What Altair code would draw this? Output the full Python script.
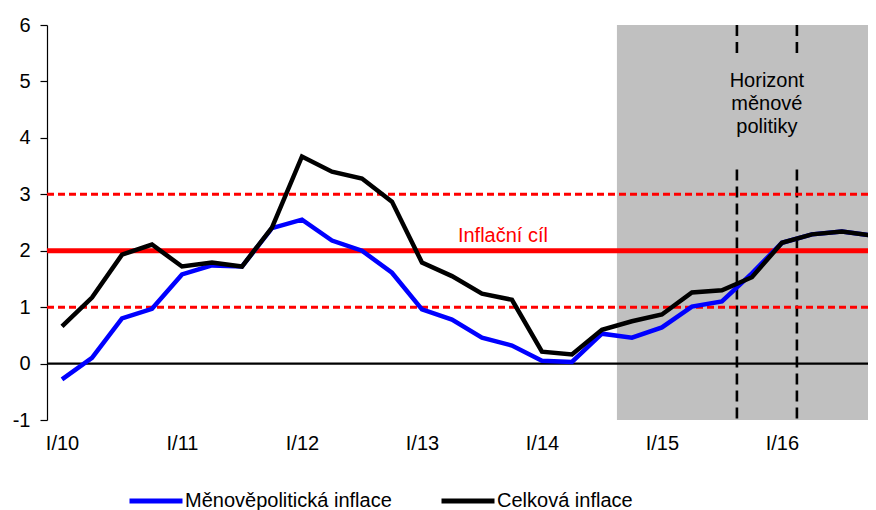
import json
import altair as alt
import pandas as pd

FONT = "Liberation Sans"

# ---------------- data ----------------
tick_labels = ["I/10", "I/11", "I/12", "I/13", "I/14", "I/15", "I/16"]
quarter_idx = list(range(28))
celkova = [0.66, 1.17, 1.93, 2.11, 1.72, 1.79, 1.72, 2.41,
           3.67, 3.40, 3.28, 2.87, 1.79, 1.55, 1.24, 1.13,
           0.21, 0.16, 0.60, 0.75, 0.87, 1.26, 1.30, 1.53,
           2.14, 2.29, 2.34, 2.27]
menove = [-0.28, 0.10, 0.80, 0.97, 1.58, 1.74, 1.72, 2.40,
          2.55, 2.18, 2.00, 1.61, 0.96, 0.78, 0.46, 0.32,
          0.05, 0.03, 0.53, 0.46, 0.64, 1.01, 1.10, 1.60,
          2.14, 2.29, 2.34, 2.27]
series_names = ["Měnověpolitická inflace", "Celková inflace"]
series_colors = ["#0000ff", "#000000"]

target = [2]
band_limits = [1, 3]
zero = [0]
forecast_band = [18.5, 27.5]
horizon_x = [22.5, 24.5]
horizon_gap = [5.48, 3.44]
target_label = "Inflační cíl"
target_label_pos = (14.7, 2.16)
horizon_label = "Horizont\nměnové\npolitiky"
horizon_label_pos = (23.5, 4.91)

# ---------------- frames ----------------
df_m = pd.DataFrame({"q": quarter_idx, "v": menove, "s": series_names[0]})
df_c = pd.DataFrame({"q": quarter_idx, "v": celkova, "s": series_names[1]})

xscale = alt.Scale(domain=[-0.5, 26.87], nice=False, zero=False)
yscale = alt.Scale(domain=[-1, 6], nice=False, zero=False)
cscale = alt.Scale(domain=series_names, range=series_colors)

label_expr = json.dumps(tick_labels) + "[round(datum.value / 4)]"

x_axis = alt.Axis(values=[0, 4, 8, 12, 16, 20, 24], labelExpr=label_expr,
                  ticks=False, domain=False, grid=False, title=None,
                  labelFont=FONT, labelFontSize=20, labelColor="#000000",
                  labelPadding=13, labelFlush=False, labelOverlap=False)
y_axis = alt.Axis(values=[-1, 0, 1, 2, 3, 4, 5, 6], grid=False, title=None,
                  labelExpr="datum.value < 0 ? '-' + abs(datum.value) : '' + datum.value",
                  labelFont=FONT, labelFontSize=20, labelColor="#000000",
                  tickColor="#000000", tickSize=7, tickWidth=1.2,
                  domainColor="#000000", domainWidth=1.2, labelPadding=10)


def X(field):
    return alt.X(field, scale=xscale, axis=x_axis, title=None)


def Y(field):
    return alt.Y(field, scale=yscale, axis=y_axis, title=None)


band = alt.Chart(pd.DataFrame({"x": [forecast_band[0]], "x2": [forecast_band[1]],
                               "y": [6], "y2": [-1]})).mark_rect(
    color="#c0c0c0", clip=True).encode(
    x=X("x:Q"), x2="x2:Q", y=Y("y:Q"), y2="y2:Q")

vdf = pd.DataFrame({
    "x": [horizon_x[0], horizon_x[0], horizon_x[1], horizon_x[1]],
    "y": [6, horizon_gap[1], 6, horizon_gap[1]],
    "y2": [horizon_gap[0], -1, horizon_gap[0], -1]})
vlines = alt.Chart(vdf).mark_rule(color="#000000", strokeWidth=2.6,
                                  strokeDash=[11, 6]).encode(
    x=X("x:Q"), y=Y("y:Q"), y2="y2:Q")

zero_rule = alt.Chart(pd.DataFrame({"y": zero})).mark_rule(
    color="#000000", strokeWidth=2.2).encode(y=Y("y:Q"))

dashed = alt.Chart(pd.DataFrame({"y": band_limits})).mark_rule(
    color="#ff0000", strokeWidth=3, strokeDash=[7, 4]).encode(y=Y("y:Q"))

target_rule = alt.Chart(pd.DataFrame({"y": target})).mark_rule(
    color="#ff0000", strokeWidth=5).encode(y=Y("y:Q"))

legend = alt.Legend(title=None, orient="none", legendX=80, legendY=447,
                    direction="horizontal", symbolType="stroke",
                    symbolSize=2809, symbolStrokeWidth=5,
                    labelFont=FONT, labelFontSize=20, labelColor="#000000",
                    labelOffset=0, columnPadding=39, labelLimit=400)

line_m = alt.Chart(df_m).mark_line(strokeWidth=4.5, clip=True,
                                   strokeJoin="miter").encode(
    x=X("q:Q"), y=Y("v:Q"),
    color=alt.Color("s:N", scale=cscale, legend=legend))

line_c = alt.Chart(df_c).mark_line(strokeWidth=4.5, clip=True,
                                   strokeJoin="miter").encode(
    x=X("q:Q"), y=Y("v:Q"),
    color=alt.Color("s:N", scale=cscale, legend=legend))

t_target = alt.Chart(pd.DataFrame({"x": [target_label_pos[0]], "y": [target_label_pos[1]],
                                   "t": [target_label]})).mark_text(
    font=FONT, fontSize=20, color="#ff0000", align="center",
    baseline="alphabetic").encode(x=X("x:Q"), y=Y("y:Q"), text="t:N")

t_horizon = alt.Chart(pd.DataFrame({"x": [horizon_label_pos[0]], "y": [horizon_label_pos[1]],
                                    "t": [horizon_label]})).mark_text(
    font=FONT, fontSize=20, color="#000000", align="center",
    baseline="alphabetic", lineBreak="\n", lineHeight=23).encode(
    x=X("x:Q"), y=Y("y:Q"), text="t:N")

chart = alt.layer(band, zero_rule, vlines, dashed, target_rule,
                  line_m, line_c, t_target, t_horizon).properties(
    width=821, height=395,
    autosize=alt.AutoSizeParams(type="none"),
    padding={"left": 39, "top": 17, "right": 0, "bottom": 92},
    background="#ffffff",
).configure_view(stroke=None)

chart.save("out.html", embed_options={"renderer": "svg", "actions": False})
